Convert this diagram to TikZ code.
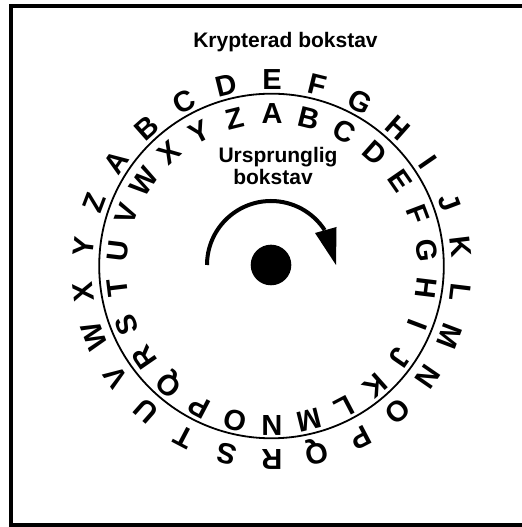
\documentclass[tikz,border=0pt]{standalone}
\usepackage{fontspec}
\setmainfont{Liberation Sans}
\tikzset{
  ringletter/.style={font=\bfseries\fontsize{29bp}{29bp}\selectfont, inner sep=0pt, text height=20.8bp, text depth=0pt, anchor=center},
  textlabel/.style={font=\bfseries\fontsize{21bp}{21bp}\selectfont, inner sep=0pt, anchor=base},
}
\begin{document}
\begin{tikzpicture}[x=1bp,y=1bp]
\useasboundingbox (0,0) rectangle (522,527);
\draw[line width=4bp] (11,1.5) rectangle (526,520.5);
\coordinate (rc) at (272,257.5);
\coordinate (cc) at (271.5,261);
\coordinate (dc) at (271,262);
\draw[line width=1.8bp] (cc) circle[radius=172.3];
\fill (dc) circle[radius=20.3];
\foreach \L [count=\i from 0] in {A,B,C,D,E,F,G,H,I,J,K,L,M,N,O,P,Q,R,S,T,U,V,W,X,Y,Z} {
  \pgfmathsetmacro\ango{90+(4-\i)*360/26}
  \pgfmathsetmacro\angi{90-\i*360/26}
  \node[ringletter, rotate=\ango-90] (out\L) at ([shift={(\ango:190)}]rc) {\L};
  \node[ringletter, rotate=\angi-90] (in\L) at ([shift={(\angi:156)}]rc) {\L};
}
\coordinate (arcstart) at (207,262);
\coordinate (tipa) at (315,294);
\coordinate (tipb) at (336.5,300);
\coordinate (tipc) at (336,262);
\draw[line width=4bp] (arcstart) arc[start angle=180, end angle=33, radius=64];
\fill (tipa) -- (tipb) -- (tipc) -- cycle;
\node[textlabel] (title) at (285.5,479.3) {Krypterad bokstav};
\node[textlabel] (ursp) at (278,364) {Ursprunglig};
\node[textlabel] (boks) at (273,342) {bokstav};
\end{tikzpicture}
\end{document}
